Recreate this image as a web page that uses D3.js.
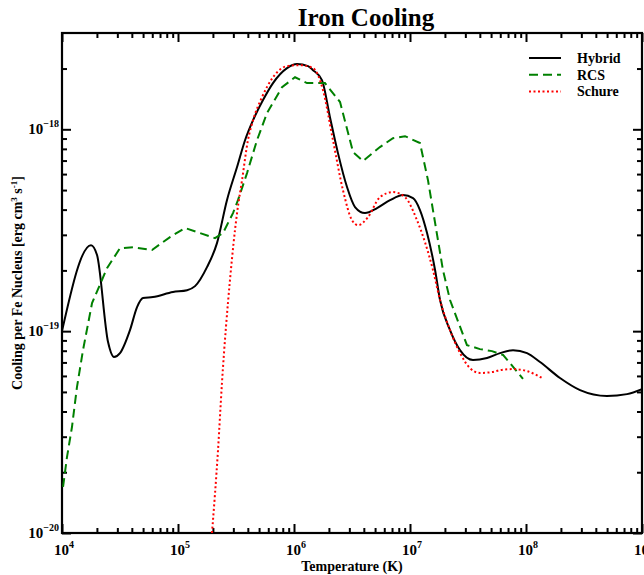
<!DOCTYPE html>
<html>
<head>
<meta charset="utf-8">
<script src="https://cdn.jsdelivr.net/npm/d3@7"></script>
<style>
  body { margin: 0; background: #fff; }
  text { font-family: 'Liberation Serif', 'DejaVu Serif', serif; font-weight: bold; }
</style>
</head>
<body>
<div id="chart"></div>
<script>
// log10 temperature [K] and log10 cooling [erg cm^3 s^-1]
const hybridLogT = [4.000, 4.250, 4.302, 4.397, 4.448, 4.500, 4.586, 4.647, 4.698, 4.784, 4.957, 5.078, 5.147, 5.250, 5.336, 5.422, 5.509, 5.578, 5.647, 5.733, 5.819, 5.940, 6.026, 6.121, 6.164, 6.241, 6.310, 6.379, 6.457, 6.526, 6.612, 6.716, 6.828, 6.940, 7.026, 7.086, 7.147, 7.216, 7.259, 7.345, 7.431, 7.543, 7.664, 7.776, 7.888, 8.009, 8.121, 8.293, 8.466, 8.698, 8.871, 9.000];
const hybridLogL = [-19.000, -18.574, -18.623, -19.054, -19.128, -19.109, -18.995, -18.881, -18.836, -18.831, -18.806, -18.797, -18.777, -18.683, -18.564, -18.351, -18.187, -18.054, -17.955, -17.855, -17.771, -17.697, -17.677, -17.687, -17.707, -17.756, -17.940, -18.118, -18.286, -18.385, -18.415, -18.390, -18.351, -18.326, -18.341, -18.400, -18.514, -18.697, -18.846, -18.995, -19.094, -19.143, -19.133, -19.109, -19.094, -19.109, -19.153, -19.232, -19.292, -19.321, -19.312, -19.287];

const rcsLogT = [4.009, 4.043, 4.086, 4.129, 4.181, 4.259, 4.388, 4.500, 4.612, 4.776, 4.931, 5.060, 5.319, 5.388, 5.474, 5.517, 5.595, 5.681, 5.767, 5.897, 6.009, 6.112, 6.267, 6.397, 6.509, 6.595, 6.741, 6.853, 6.957, 7.086, 7.155, 7.284, 7.345, 7.491, 7.603, 7.707, 7.802, 7.862, 7.974];
const rcsLogL = [-19.772, -19.624, -19.475, -19.277, -19.094, -18.861, -18.688, -18.589, -18.584, -18.598, -18.534, -18.489, -18.539, -18.514, -18.415, -18.351, -18.217, -18.054, -17.920, -17.791, -17.742, -17.771, -17.771, -17.865, -18.113, -18.157, -18.088, -18.044, -18.034, -18.068, -18.252, -18.697, -18.846, -19.069, -19.089, -19.099, -19.118, -19.158, -19.237];

const schureLogT = [5.293, 5.345, 5.379, 5.448, 5.509, 5.552, 5.603, 5.647, 5.724, 5.819, 5.940, 6.052, 6.164, 6.250, 6.336, 6.422, 6.500, 6.552, 6.638, 6.741, 6.853, 6.957, 7.060, 7.198, 7.259, 7.345, 7.431, 7.517, 7.603, 7.716, 7.776, 7.888, 8.009, 8.138];
const schureLogL = [-20.000, -19.589, -19.257, -18.747, -18.415, -18.252, -18.054, -17.955, -17.841, -17.742, -17.687, -17.682, -17.697, -17.806, -18.054, -18.301, -18.450, -18.475, -18.435, -18.336, -18.311, -18.336, -18.450, -18.697, -18.846, -18.995, -19.108, -19.183, -19.207, -19.202, -19.193, -19.188, -19.198, -19.232];

const xDecades = [4, 5, 6, 7, 8, 9];
const yDecades = [-20, -19, -18];
const seriesNames = ['Hybrid', 'RCS', 'Schure'];

const W = 644, H = 575;
const margin = {top: 33, right: 2, bottom: 42, left: 62};
const width = W - margin.left - margin.right;
const height = H - margin.top - margin.bottom;

const x = d3.scaleLog().domain([1e4, 1e9]).range([0, width]);
const y = d3.scaleLog().domain([1e-20, 3e-18]).range([height, 0]);

const styles = {
  Hybrid: {color: '#000', dash: null, curve: d3.curveMonotoneX},
  RCS: {color: '#008000', dash: '9,5', curve: d3.curveLinear},
  Schure: {color: '#ff0000', dash: '2,2.5', curve: d3.curveMonotoneX}
};

const series = [
  {name: 'Hybrid', t: hybridLogT, l: hybridLogL},
  {name: 'RCS', t: rcsLogT, l: rcsLogL},
  {name: 'Schure', t: schureLogT, l: schureLogL}
].map(s => ({name: s.name, values: s.t.map((t, i) => ({T: 10 ** t, L: 10 ** s.l[i]}))}));

const svg = d3.select('#chart').append('svg')
  .attr('width', W).attr('height', H);

svg.append('defs').append('clipPath').attr('id', 'clip')
  .append('rect').attr('width', width).attr('height', height);

const chart = svg.append('g')
  .attr('transform', `translate(${margin.left},${margin.top})`);

// minor tick values
const xMinor = [];
xDecades.slice(0, -1).forEach(d => { for (let k = 2; k <= 9; k++) xMinor.push(k * 10 ** d); });
const yMinor = [];
[-20, -19, -18].forEach(d => { for (let k = 2; k <= 9; k++) { const v = k * 10 ** d; if (v <= 3e-18) yMinor.push(v); } });
const xMajor = xDecades.map(d => 10 ** d);
const yMajor = yDecades.map(d => 10 ** d);

function tickAxis(axisFn, scale, values, size) {
  return axisFn(scale).tickValues(values).tickSize(-size).tickFormat('');
}

const axes = [
  {fn: d3.axisBottom, s: x, tr: `translate(0,${height})`, maj: xMajor, min: xMinor},
  {fn: d3.axisTop, s: x, tr: 'translate(0,0)', maj: xMajor, min: xMinor},
  {fn: d3.axisLeft, s: y, tr: 'translate(0,0)', maj: yMajor, min: yMinor},
  {fn: d3.axisRight, s: y, tr: `translate(${width},0)`, maj: yMajor, min: yMinor}
];
axes.forEach(a => {
  [[a.maj, 9], [a.min, 5]].forEach(([vals, size]) => {
    const g = chart.append('g').attr('transform', a.tr)
      .call(tickAxis(a.fn, a.s, vals, size));
    g.select('.domain').remove();
    g.selectAll('line').attr('stroke', '#000').attr('stroke-width', 2);
    g.selectAll('text').remove();
  });
});

// frame
chart.append('rect')
  .attr('width', width).attr('height', height)
  .attr('fill', 'none').attr('stroke', '#000').attr('stroke-width', 2.2);

// x tick labels
chart.selectAll('.xlab').data(xDecades).enter().append('text')
  .attr('class', 'xlab')
  .attr('x', d => x(10 ** d) + 2)
  .attr('y', height + 22)
  .attr('text-anchor', 'middle')
  .attr('font-size', 15)
  .each(function(d) {
    const t = d3.select(this);
    t.append('tspan').text('10');
    t.append('tspan').attr('dy', -7).attr('font-size', 10).text(d);
  });

// y tick labels
chart.selectAll('.ylab').data(yDecades).enter().append('text')
  .attr('class', 'ylab')
  .attr('x', -3)
  .attr('y', d => y(10 ** d) + 5)
  .attr('text-anchor', 'end')
  .attr('font-size', 15)
  .each(function(d) {
    const t = d3.select(this);
    t.append('tspan').text('10');
    t.append('tspan').attr('dy', -7).attr('font-size', 10).text('\u2212' + Math.abs(d));
  });

// lines
const line = d3.line().x(d => x(d.T)).y(d => y(d.L));
const plot = chart.append('g').attr('clip-path', 'url(#clip)');
plot.selectAll('path').data(series).enter().append('path')
  .attr('d', s => line.curve(styles[s.name].curve)(s.values))
  .attr('fill', 'none')
  .attr('stroke', s => styles[s.name].color)
  .attr('stroke-width', 2)
  .attr('stroke-dasharray', s => styles[s.name].dash);

// title
svg.append('text')
  .attr('x', 366).attr('y', 26)
  .attr('text-anchor', 'middle')
  .attr('font-size', 25)
  .text('Iron Cooling');

// x axis label
svg.append('text')
  .attr('x', margin.left + width / 2).attr('y', 571)
  .attr('text-anchor', 'middle')
  .attr('font-size', 14)
  .text('Temperature (K)');

// y axis label
const yl = svg.append('text')
  .attr('transform', `translate(22,${margin.top + height / 2}) rotate(-90)`)
  .attr('text-anchor', 'middle')
  .attr('font-size', 14);
yl.append('tspan').text('Cooling per Fe Nucleus [erg cm');
yl.append('tspan').attr('dy', -5).attr('font-size', 9).text('3');
yl.append('tspan').attr('dy', 5).text(' s');
yl.append('tspan').attr('dy', -5).attr('font-size', 9).text('-1');
yl.append('tspan').attr('dy', 5).text(']');

// legend
const legend = svg.selectAll('.legend').data(seriesNames).enter().append('g')
  .attr('class', 'legend')
  .attr('transform', (d, i) => `translate(529,${58 + i * 16.7})`);
legend.append('line')
  .attr('x1', 0).attr('x2', 32)
  .attr('stroke', d => styles[d].color)
  .attr('stroke-width', 2)
  .attr('stroke-dasharray', d => styles[d].dash);
legend.append('text')
  .attr('x', 48).attr('y', 5)
  .attr('font-size', 14)
  .text(d => d);
</script>
</body>
</html>
